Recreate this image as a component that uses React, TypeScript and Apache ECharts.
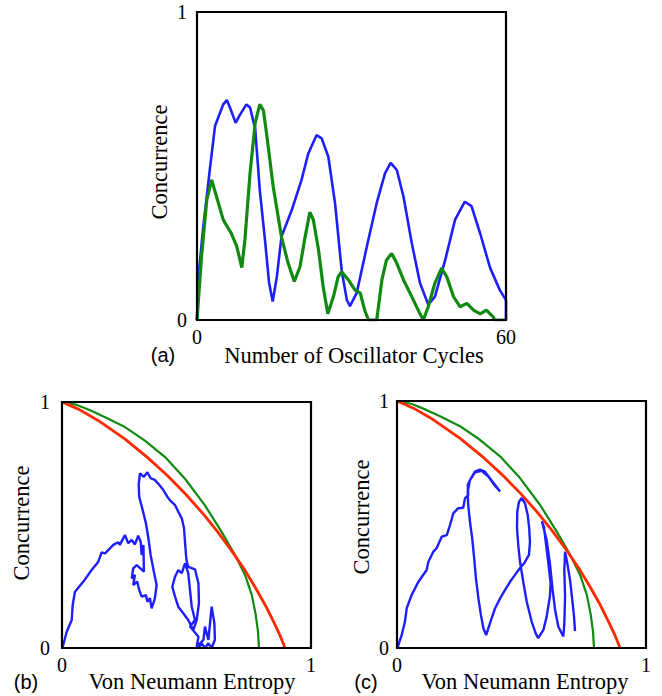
import React, { useEffect, useRef } from "react";
import * as echarts from "echarts";

// Panel (a): concurrence vs number of oscillator cycles
const cyclesTicks = [0, 60];
const blueCycles: number[][] = [
  [0, 0], [0.4, 0.16], [1.2, 0.3], [2.5, 0.49], [3.5, 0.63], [5.1, 0.7], [5.8, 0.714], [6.4, 0.69],
  [7.5, 0.64], [8.3, 0.665], [9.6, 0.7], [10.3, 0.69], [11.3, 0.62], [12.2, 0.42], [13.2, 0.26],
  [14.0, 0.12], [14.7, 0.06], [15.5, 0.14], [16.4, 0.27], [18.4, 0.357], [20.3, 0.455], [21.6, 0.54],
  [23.2, 0.6], [24.2, 0.59], [25.5, 0.53], [26.8, 0.38], [28.1, 0.16], [29.1, 0.065], [29.7, 0.045],
  [31.0, 0.087], [33.0, 0.24], [34.9, 0.38], [36.5, 0.476], [37.6, 0.51], [38.8, 0.487], [40.1, 0.4],
  [41.7, 0.25], [43.3, 0.12], [44.9, 0.05], [46.2, 0.076], [48.2, 0.195], [50.1, 0.325], [52.0, 0.384],
  [53.3, 0.37], [55.0, 0.28], [56.9, 0.17], [58.8, 0.097], [59.8, 0.07], [60, 0.065], [60, 0],
];
const greenCycles: number[][] = [
  [0, 0], [0.9, 0.21], [1.9, 0.39], [2.85, 0.455], [3.8, 0.4], [5.1, 0.325], [6.7, 0.28], [7.7, 0.24],
  [8.7, 0.17], [9.3, 0.26], [10.3, 0.476], [11.3, 0.64], [12.2, 0.7], [12.9, 0.68], [13.5, 0.606],
  [14.8, 0.433], [16.4, 0.27], [17.7, 0.184], [18.9, 0.125], [20.0, 0.173], [21.0, 0.27], [21.9, 0.35],
  [22.6, 0.325], [23.6, 0.227], [24.5, 0.108], [25.4, 0.02], [26.5, 0.076], [27.4, 0.14], [28.1, 0.157],
  [29.4, 0.13], [30.7, 0.097], [31.7, 0.087], [32.6, 0.03], [33.3, 0], [34.9, 0], [35.9, 0.13],
  [36.8, 0.195], [37.8, 0.216], [38.8, 0.184], [40.1, 0.13], [41.7, 0.076], [43.3, 0.02], [43.95, 0],
  [44.9, 0.043], [46.2, 0.12], [47.5, 0.168], [48.5, 0.14], [49.8, 0.076], [51.1, 0.043], [52.4, 0.054],
  [53.7, 0.032], [55.0, 0.02], [56.2, 0.032], [57.5, 0.01], [57.8, 0], [60, 0],
];

// Panels (b), (c): concurrence vs von Neumann entropy
const entropyTicks = [0, 1];
const concurrenceTicks = [0, 1];
const greenBound: number[][] = [
  [0, 1], [0.06, 0.988], [0.12, 0.963], [0.173, 0.938], [0.253, 0.898], [0.333, 0.843], [0.414, 0.776],
  [0.494, 0.688], [0.574, 0.58], [0.641, 0.472], [0.695, 0.378], [0.735, 0.297], [0.762, 0.216],
  [0.778, 0.135], [0.787, 0.068], [0.79, 0.02], [0.791, 0],
];
const redBound: number[][] = [
  [0, 1], [0.068, 0.97], [0.145, 0.925], [0.252, 0.85], [0.343, 0.775], [0.424, 0.7], [0.497, 0.625],
  [0.563, 0.55], [0.623, 0.475], [0.678, 0.4], [0.729, 0.325], [0.774, 0.25], [0.816, 0.175],
  [0.853, 0.1], [0.876, 0.05], [0.896, 0],
];
const blueTrajB: number[][] = [
  [0.003, 0.005], [0.019, 0.066], [0.039, 0.114], [0.043, 0.175], [0.052, 0.229], [0.086, 0.27],
  [0.119, 0.317], [0.146, 0.351], [0.159, 0.389], [0.173, 0.385], [0.206, 0.419], [0.226, 0.43],
  [0.232, 0.419], [0.253, 0.459], [0.266, 0.426], [0.28, 0.439], [0.293, 0.421], [0.306, 0.457],
  [0.316, 0.432], [0.32, 0.378], [0.327, 0.419], [0.329, 0.31], [0.3, 0.337], [0.286, 0.324],
  [0.28, 0.283], [0.293, 0.297], [0.286, 0.256], [0.302, 0.27], [0.31, 0.236], [0.32, 0.209],
  [0.337, 0.215], [0.343, 0.188], [0.353, 0.202], [0.36, 0.161], [0.373, 0.202], [0.38, 0.256],
  [0.369, 0.31], [0.356, 0.378], [0.347, 0.446], [0.337, 0.507], [0.324, 0.561], [0.31, 0.615],
  [0.308, 0.663], [0.313, 0.71], [0.329, 0.696], [0.343, 0.714], [0.356, 0.69], [0.373, 0.683],
  [0.391, 0.663], [0.407, 0.642], [0.423, 0.615], [0.434, 0.6], [0.454, 0.581], [0.467, 0.554],
  [0.481, 0.527], [0.49, 0.487], [0.494, 0.432], [0.498, 0.378], [0.501, 0.351], [0.507, 0.33],
  [0.534, 0.32], [0.548, 0.263], [0.55, 0.182], [0.541, 0.114], [0.527, 0.073], [0.507, 0.114],
  [0.487, 0.141], [0.467, 0.168], [0.454, 0.209], [0.443, 0.249], [0.454, 0.29], [0.467, 0.317],
  [0.481, 0.304], [0.494, 0.344], [0.507, 0.304], [0.514, 0.236], [0.521, 0.168], [0.534, 0.114],
  [0.514, 0.087], [0.548, 0.046], [0.541, 0.005], [0.568, 0.033], [0.574, 0.087], [0.588, 0.033],
  [0.601, 0.168], [0.612, 0.1], [0.614, 0.033], [0.601, 0], [0.588, 0.019], [0.574, 0],
  [0.561, 0.019], [0.548, 0],
];
const blueTrajC: number[][] = [
  [0.003, 0.005], [0.019, 0.053], [0.032, 0.107], [0.039, 0.161], [0.059, 0.215], [0.086, 0.268],
  [0.119, 0.316], [0.126, 0.349], [0.146, 0.39], [0.159, 0.404], [0.18, 0.451], [0.2, 0.457],
  [0.213, 0.498], [0.226, 0.545], [0.246, 0.566], [0.266, 0.568], [0.273, 0.606], [0.286, 0.619],
  [0.284, 0.66], [0.297, 0.687], [0.313, 0.714], [0.333, 0.722], [0.353, 0.714], [0.373, 0.687],
  [0.394, 0.66], [0.414, 0.634], [0.394, 0.656], [0.367, 0.694], [0.34, 0.717], [0.313, 0.711],
  [0.293, 0.68], [0.284, 0.633], [0.286, 0.579], [0.293, 0.511], [0.302, 0.444], [0.31, 0.363],
  [0.317, 0.282], [0.327, 0.201], [0.337, 0.134], [0.347, 0.08], [0.358, 0.052], [0.367, 0.08],
  [0.38, 0.12], [0.394, 0.161], [0.414, 0.201], [0.434, 0.235], [0.454, 0.268], [0.474, 0.296],
  [0.494, 0.324], [0.511, 0.343], [0.53, 0.377], [0.534, 0.43], [0.531, 0.484], [0.525, 0.538],
  [0.514, 0.586], [0.501, 0.607], [0.49, 0.592], [0.483, 0.552], [0.482, 0.484], [0.487, 0.417],
  [0.494, 0.349], [0.507, 0.268], [0.521, 0.187], [0.541, 0.106], [0.557, 0.059], [0.567, 0.04],
  [0.588, 0.073], [0.601, 0.127], [0.614, 0.208], [0.617, 0.262], [0.608, 0.343], [0.598, 0.424],
  [0.59, 0.491], [0.582, 0.513], [0.601, 0.437], [0.614, 0.343], [0.625, 0.235], [0.635, 0.154],
  [0.648, 0.086], [0.668, 0.047], [0.672, 0.1], [0.675, 0.208], [0.672, 0.316], [0.675, 0.39],
  [0.684, 0.343], [0.695, 0.275], [0.704, 0.194], [0.711, 0.127], [0.715, 0.068],
];

const labelsText = {
  xA: "Number of Oscillator Cycles",
  xBC: "Von Neumann Entropy",
  y: "Concurrence",
  a: "(a)",
  b: "(b)",
  c: "(c)",
};

const BLUE = "#1e1eff";
const GREEN = "#118a11";
const RED = "#ff2a00";
const FRAME = "#000000";
const SERIF = "'Liberation Serif', 'Times New Roman', serif";
const SANS = "'Liberation Sans', Arial, sans-serif";

export default function App() {
  const ref = useRef<HTMLDivElement>(null);
  useEffect(() => {
    if (!ref.current) return;
    const chart = echarts.init(ref.current, null, { renderer: "svg" });
    const axis = (gi: number, ticks: number[], margin: number) => ({
      gridIndex: gi,
      type: "value" as const,
      min: ticks[0],
      max: ticks[1],
      interval: ticks[1] - ticks[0],
      axisLine: { show: false },
      axisTick: { show: false },
      splitLine: { show: false },
      axisLabel: { fontFamily: SERIF, fontSize: 20, color: "#000", margin },
    });
    const line = (gi: number, data: number[][], color: string, width: number) => ({
      type: "line" as const,
      xAxisIndex: gi,
      yAxisIndex: gi,
      data,
      showSymbol: false,
      symbol: "none",
      lineStyle: { color, width },
      silent: true,
    });
    const text = (x: number, y: number, t: string, font: string, size: number, rot = 0) => ({
      type: "text" as const,
      x,
      y,
      rotation: rot,
      style: {
        text: t,
        font: `${size}px ${font}`,
        fill: "#000",
        textAlign: "center",
        textVerticalAlign: "middle",
      },
    });
    const texts = [
      text(354, 355, labelsText.xA, SERIF, 22.5),
      text(163, 355, labelsText.a, SANS, 20),
      text(159, 162, labelsText.y, SERIF, 22.5, Math.PI / 2),
      text(192, 681, labelsText.xBC, SERIF, 22.5),
      text(26, 682, labelsText.b, SANS, 20),
      text(21, 523, labelsText.y, SERIF, 22.5, Math.PI / 2),
      text(525, 681, labelsText.xBC, SERIF, 22.5),
      text(366, 682, labelsText.c, SANS, 20),
      text(361, 517, labelsText.y, SERIF, 22.5, Math.PI / 2),
    ];
    chart.setOption({
      animation: false,
      grid: [
        { left: 197, top: 12, width: 309, height: 308 },
        { left: 62, top: 402, width: 249, height: 246 },
        { left: 397, top: 401, width: 249, height: 247 },
      ],
      xAxis: [axis(0, cyclesTicks, 7), axis(1, entropyTicks, 7), axis(2, entropyTicks, 7)],
      yAxis: [axis(0, concurrenceTicks, 10), axis(1, concurrenceTicks, 12), axis(2, concurrenceTicks, 8)],
      series: [
        line(0, blueCycles, BLUE, 2.6),
        line(0, greenCycles, GREEN, 3.2),
        line(1, blueTrajB, BLUE, 2.4),
        line(1, greenBound, GREEN, 2.2),
        line(1, redBound, RED, 2.8),
        line(2, blueTrajC, BLUE, 2.4),
        line(2, greenBound, GREEN, 2.2),
        line(2, redBound, RED, 2.8),
      ],
      graphic: texts,
    });
    // frame rectangles from the axes' own pixel mapping
    const xTicksList = [cyclesTicks, entropyTicks, entropyTicks];
    const frames = xTicksList.map((xt, gi) => {
      const p0 = chart.convertToPixel({ xAxisIndex: gi, yAxisIndex: gi } as any, [xt[0], concurrenceTicks[1]]) as number[];
      const p1 = chart.convertToPixel({ xAxisIndex: gi, yAxisIndex: gi } as any, [xt[1], concurrenceTicks[0]]) as number[];
      return {
        type: "rect" as const,
        z: 100,
        silent: true,
        shape: { x: p0[0], y: p0[1], width: p1[0] - p0[0], height: p1[1] - p0[1] },
        style: { fill: "none", stroke: FRAME, lineWidth: 2.2 },
      };
    });
    chart.setOption({ graphic: [...texts, ...frames] });
    return () => chart.dispose();
  }, []);
  return (
    <div
      ref={ref}
      style={{ position: "absolute", left: 0, top: 0, width: 662, height: 696, background: "#fff" }}
    />
  );
}
